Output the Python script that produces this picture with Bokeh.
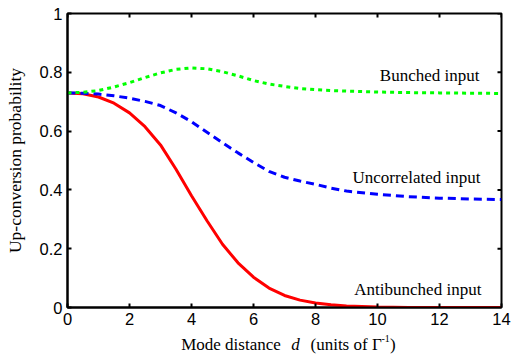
import math
from bokeh.plotting import figure
from bokeh.layouts import column
from bokeh.models import Range1d, FixedTicker
from bokeh.core.properties import value
from bokeh.embed import file_html
from bokeh.resources import INLINE

# ---- data ----
d_vals = [0, 0.5, 1, 1.5, 2, 2.5, 3, 3.5, 4, 4.5, 5, 5.5, 6, 6.5, 7, 7.5, 8, 8.5, 9,
          10, 11, 12, 13, 14]
antibunched = [0.730, 0.727, 0.716, 0.695, 0.662, 0.615, 0.553, 0.470, 0.380, 0.295,
               0.215, 0.152, 0.103, 0.066, 0.041, 0.025, 0.015, 0.009, 0.005,
               0.0015, 0.0004, 0.0001, 0.0, 0.0]
uncorrelated = [0.730, 0.729, 0.726, 0.720, 0.712, 0.701, 0.687, 0.662, 0.632, 0.596,
                0.560, 0.526, 0.493, 0.463, 0.443, 0.430, 0.419, 0.406, 0.396,
                0.385, 0.377, 0.372, 0.369, 0.367]
bunched = [0.730, 0.732, 0.738, 0.750, 0.765, 0.782, 0.798, 0.810, 0.815, 0.812,
           0.802, 0.788, 0.772, 0.760, 0.752, 0.745, 0.741, 0.738, 0.736,
           0.733, 0.731, 0.730, 0.729, 0.728]

x_ticks = [0, 2, 4, 6, 8, 10, 12, 14]
y_ticks = [0, 0.2, 0.4, 0.6, 0.8, 1]
y_tick_labels = {0: "0", 0.2: "0.2", 0.4: "0.4", 0.6: "0.6", 0.8: "0.8", 1: "1"}

series_labels = ["Bunched input", "Uncorrelated input", "Antibunched input"]
label_x = [13.29, 13.32, 13.35]
label_y = [0.789, 0.443, 0.060]

y_title = "Up-conversion probability"
x_title_parts = ["Mode distance", "d", "(units of Γ", "-1", ")"]
x_title_pos = [3.668, 7.216, 7.839, 10.13, 10.40]

SERIF = "Liberation Serif"
SANS = "Liberation Sans"

x_range = Range1d(0, 14)
p = figure(width=516, height=332,
           min_border_left=67, min_border_right=15, min_border_top=13, min_border_bottom=25,
           x_range=x_range, y_range=Range1d(0, 1),
           output_backend="svg", toolbar_location=None)
p.outline_line_color = "black"
p.outline_line_width = 2
p.xgrid.visible = False
p.ygrid.visible = False
p.background_fill_color = "white"
p.border_fill_color = "white"

for ax, ticks in ((p.xaxis[0], x_ticks), (p.yaxis[0], y_ticks)):
    ax.ticker = FixedTicker(ticks=ticks)
    ax.axis_line_width = 2
    ax.axis_line_color = "black"
    ax.major_tick_line_width = 2
    ax.major_tick_line_color = "black"
    ax.major_tick_in = 4
    ax.major_tick_out = 0
    ax.minor_tick_line_color = None
    ax.major_label_text_font = SANS
    ax.major_label_text_font_size = "16.5px"
    ax.major_label_text_color = "black"
    ax.major_label_standoff = 5

p.yaxis[0].major_label_overrides = y_tick_labels
p.yaxis[0].axis_label = y_title
p.yaxis[0].axis_label_text_font = SERIF
p.yaxis[0].axis_label_text_font_size = "17.5px"
p.yaxis[0].axis_label_text_font_style = "normal"
p.yaxis[0].axis_label_text_color = "black"
p.yaxis[0].axis_label_standoff = 12

# inward ticks on the top and right edges of the box
p.scatter(x_ticks, [y_ticks[-1]] * len(x_ticks), marker="dash", size=8, angle=math.pi / 2,
          line_color="black", line_width=2)
p.scatter([x_ticks[-1]] * len(y_ticks), y_ticks, marker="dash", size=8,
          line_color="black", line_width=2)

p.line(d_vals, antibunched, line_color="#ff0000", line_width=3)
p.line(d_vals, uncorrelated, line_color="#0000ff", line_width=3, line_dash="8 5")
p.line(d_vals, bunched, line_color="#00ff00", line_width=3, line_dash="4 4")

p.text(x=label_x, y=label_y, text=series_labels, text_align="right",
       text_baseline="alphabetic", text_font=value(SERIF), text_font_size="17px",
       text_color="black")

# x-axis title strip (italic d, superscript -1)
p2 = figure(width=516, height=24,
            min_border_left=67, min_border_right=15, min_border_top=0, min_border_bottom=0,
            x_range=x_range, y_range=Range1d(0, 1),
            output_backend="svg", toolbar_location=None,
            x_axis_location=None, y_axis_location=None)
p2.outline_line_color = None
p2.xgrid.visible = False
p2.ygrid.visible = False
p2.background_fill_color = "white"
p2.border_fill_color = "white"

styles = ["normal", "italic", "normal", "normal", "normal"]
sizes = ["17px", "17px", "17px", "10px", "17px"]
ys = [0.48, 0.48, 0.48, 0.73, 0.48]
for txt, px, py, st, sz in zip(x_title_parts, x_title_pos, ys, styles, sizes):
    p2.text(x=[px], y=[py], text=[txt], text_align="left", text_baseline="alphabetic",
            text_font=value(SERIF), text_font_style=st, text_font_size=sz,
            text_color="black")

layout = column(p, p2, spacing=0)
open("out.html", "w").write(file_html(layout, INLINE))
